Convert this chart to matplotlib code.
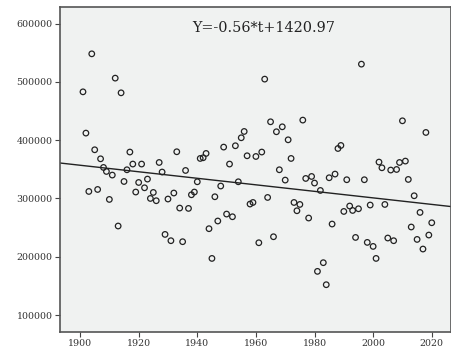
import numpy as np
import matplotlib
matplotlib.use("Agg")
import matplotlib.pyplot as plt

# yearly values, 1901-2020
years = list(range(1901, 2021))
values = [
    482900, 412100, 312000, 548100, 383500, 315400, 368000, 353200, 346300, 298300,  # 1901-1910
    340100, 506400, 252700, 481200, 329100, 349200, 379600, 359000, 311000, 327400,  # 1911-1920
    359000, 318300, 333200, 300000, 310300, 296100, 361700, 345300, 238300, 299000,  # 1921-1930
    227500, 309300, 380100, 283500, 225800, 348000, 282900, 306300, 311000, 328600,  # 1931-1940
    368600, 369800, 377200, 248100, 197100, 302900, 261300, 321300, 388100, 273200,  # 1941-1950
    359000, 268600, 390400, 328600, 404100, 414900, 373200, 290400, 293100, 372000,  # 1951-1960
    224000, 379600, 504700, 301700, 431500, 234300, 414400, 349200, 422900, 331500,  # 1961-1970
    400600, 368600, 293100, 278900, 289700, 434400, 334300, 266400, 337700, 326400,  # 1971-1980
    174900, 313700, 189800, 152000, 335500, 256100, 341800, 385700, 390900, 277700,  # 1981-1990
    332100, 287000, 279400, 233100, 282300, 530400, 332100, 224600, 288700, 217700,  # 1991-2000
    197100, 362400, 352600, 289700, 232100, 348700, 227500, 349700, 361700, 433200,  # 2001-2010
    364100, 332600, 251000, 304600, 229700, 276000, 213200, 413200, 237200, 258300,  # 2011-2020
]

# fitted trend as printed on the chart (in thousands)
slope = -0.56
intercept = 1420.97

x_ticks = [1900, 1920, 1940, 1960, 1980, 2000, 2020]
y_ticks = [100000, 200000, 300000, 400000, 500000, 600000]

plt.rcParams['font.family'] = ['DejaVu Serif']

fig = plt.figure(figsize=(4.52, 3.51), dpi=100)
ax = fig.add_axes([0.133, 0.055, 0.865, 0.926])
ax.set_facecolor('#f0f2f1')

ax.scatter(years, values, s=16, facecolors='none', edgecolors='#222222', linewidths=0.9, zorder=3)

xmin, xmax = 1893.2, 2026.6
t = np.array([xmin, xmax])
ax.plot(t, (slope * t + intercept) * 1000, color='#222222', linewidth=1.0, zorder=2)

ax.set_xlim(xmin, xmax)
ax.set_ylim(71400, 629000)
ax.set_xticks(x_ticks)
ax.set_yticks(y_ticks)
ax.tick_params(direction='out', length=3.5, width=0.8, colors='#444444', labelsize=6.8, pad=2)
for lab in ax.get_xticklabels() + ax.get_yticklabels():
    lab.set_color('#333333')
for sp in ax.spines.values():
    sp.set_color('#555555')
    sp.set_linewidth(1.2)

ax.text(0.521, 0.934, 'Y=-0.56*t+1420.97', transform=ax.transAxes, ha='center', va='center',
        fontsize=10.4, color='#222222')

fig.savefig('out.png', dpi=100)
